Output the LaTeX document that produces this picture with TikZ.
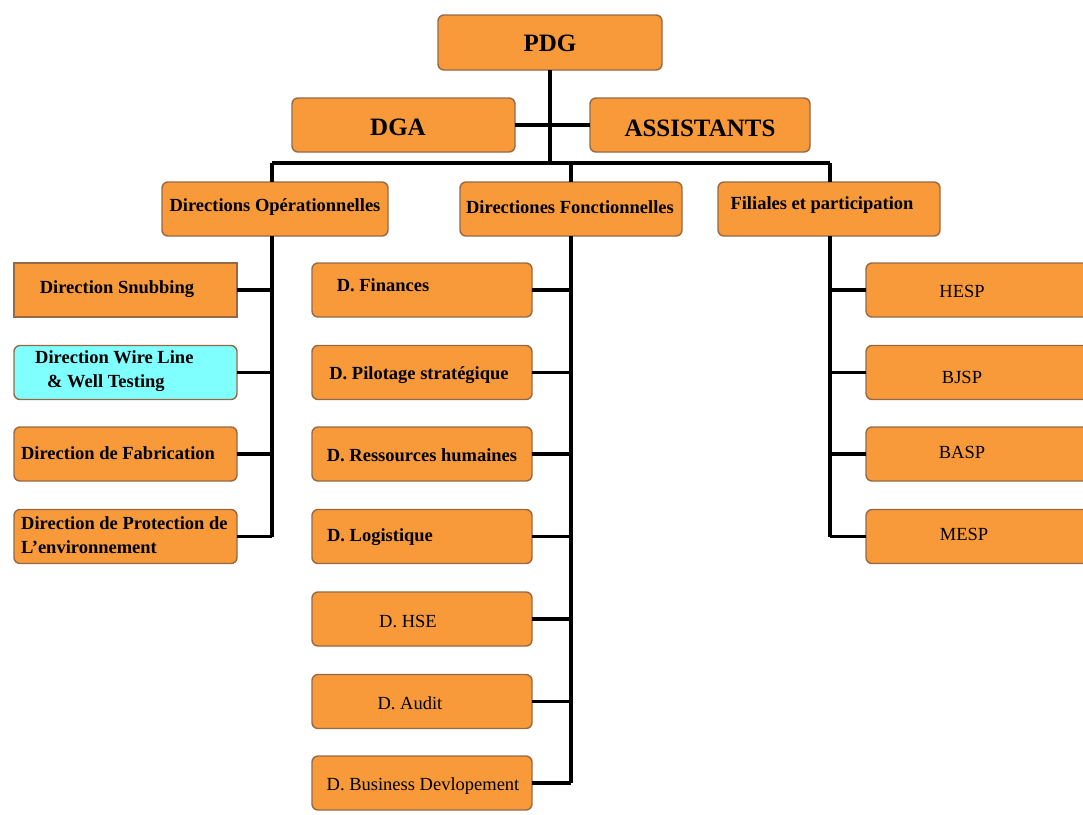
\documentclass[tikz,border=0pt]{standalone}
\usepackage{fontspec}
\setmainfont{Liberation Serif}
\definecolor{boxfill}{RGB}{248,154,58}
\definecolor{boxline}{RGB}{150,105,70}
\definecolor{cyanfill}{RGB}{128,255,255}
\begin{document}
\begin{tikzpicture}[x=1pt,y=-1pt,
  orgbox/.style={draw=boxline, fill=boxfill, line width=1.4pt, rounded corners=6pt, inner sep=0pt, outer sep=0pt, minimum height=54pt},
  bigtxt/.style={font=\fontsize{25}{28}\selectfont\bfseries, inner sep=0pt},
  smalltxt/.style={font=\fontsize{18.5}{24}\selectfont\bfseries, inner sep=0pt},
  plaintxt/.style={font=\fontsize{18.5}{22}\selectfont, inner sep=0pt},
  wire/.style={line width=3.2pt, black}
]
\clip (0,0) rectangle (1083,814);
\fill[white] (0,0) rectangle (1083,814);

% top level
\node[orgbox, minimum width=224pt, minimum height=55pt] (pdg) at (550,42.5) {};
\node[orgbox, minimum width=223pt] (dga) at (403.5,125) {};
\node[orgbox, minimum width=220pt] (assist) at (700,125) {};
\node[orgbox, minimum width=226pt] (ops) at (275,209) {};
\node[orgbox, minimum width=222pt] (fonc) at (571,209) {};
\node[orgbox, minimum width=222pt] (fil) at (829,209) {};

% left column
\node[orgbox, rounded corners=0pt, minimum width=223pt] (snub) at (125.5,290) {};
\node[orgbox, fill=cyanfill, minimum width=223pt] (wire) at (125.5,372.5) {};
\node[orgbox, minimum width=223pt] (fab) at (125.5,454) {};
\node[orgbox, minimum width=223pt] (prot) at (125.5,536.5) {};

% middle column
\node[orgbox, minimum width=220pt] (fin) at (422,290) {};
\node[orgbox, minimum width=220pt] (pil) at (422,372.5) {};
\node[orgbox, minimum width=220pt] (rh) at (422,454) {};
\node[orgbox, minimum width=220pt] (log) at (422,536.5) {};
\node[orgbox, minimum width=220pt] (hse) at (422,619) {};
\node[orgbox, minimum width=220pt] (aud) at (422,701.5) {};
\node[orgbox, minimum width=220pt] (bus) at (422,783) {};

% right column
\node[orgbox, minimum width=229pt] (hesp) at (980.5,290) {};
\node[orgbox, minimum width=229pt] (bjsp) at (980.5,372.5) {};
\node[orgbox, minimum width=229pt] (basp) at (980.5,454) {};
\node[orgbox, minimum width=229pt] (mesp) at (980.5,536.5) {};

% texts
\node[bigtxt] (tpdg) at (550,43) {PDG};
\node[bigtxt] (tdga) at (398,127) {DGA};
\node[bigtxt] (tass) at (700,128) {ASSISTANTS};
\node[smalltxt] (tops) at (275,207) {Directions Opérationnelles};
\node[smalltxt] (tfonc) at (570,207) {Directiones Fonctionnelles};
\node[smalltxt] (tfil) at (822,205) {Filiales et participation};
\node[smalltxt] (tsnub) at (117,289) {Direction Snubbing};
\node[smalltxt, align=left, anchor=west] (twire) at (35,371) {Direction Wire Line\\\hspace{12pt}\& Well Testing};
\node[smalltxt] (tfab) at (118,453) {Direction de Fabrication};
\node[smalltxt, align=left, anchor=west] (tprot) at (21,535) {Direction de Protection de\\L'environnement};
\node[smalltxt] (tfin) at (383,285) {D. Finances};
\node[smalltxt] (tpil) at (419,375) {D. Pilotage stratégique};
\node[smalltxt] (trh) at (422,455) {D. Ressources humaines};
\node[smalltxt] (tlog) at (380,537) {D. Logistique};
\node[plaintxt] (thse) at (408,621) {D. HSE};
\node[plaintxt] (taud) at (410,703) {D. Audit};
\node[plaintxt] (tbus) at (423,786) {D. Business Devlopement};
\node[plaintxt] (thesp) at (962,291) {HESP};
\node[plaintxt] (tbjsp) at (962,377) {BJSP};
\node[plaintxt] (tbasp) at (962,452) {BASP};
\node[plaintxt] (tmesp) at (964,534) {MESP};

% connectors
\coordinate (mainbus) at (550,163);
\coordinate (lbus) at (272,163);
\coordinate (mbus) at (571,163);
\coordinate (rbus) at (830,163);
\draw[wire] (pdg.south) -- (mainbus);
\draw[wire] (dga.east) -- (assist.west);
\draw[wire] (lbus) -- (rbus);
\draw[wire] (lbus) -- (lbus |- ops.north);
\draw[wire] (mbus) -- (fonc.north);
\draw[wire] (rbus) -- (rbus |- fil.north);

\draw[wire] (lbus |- ops.south) -- (lbus |- prot.east);
\draw[wire] (snub.east) -- (snub.east -| lbus);
\draw[wire] (wire.east) -- (wire.east -| lbus);
\draw[wire] (fab.east) -- (fab.east -| lbus);
\draw[wire] (prot.east) -- (prot.east -| lbus);

\draw[wire] (fonc.south) -- (fonc.south |- bus.east);
\foreach \n in {fin,pil,rh,log,hse,aud,bus}
  \draw[wire] (\n.east) -- (\n.east -| fonc.south);

\draw[wire] (rbus |- fil.south) -- (rbus |- mesp.west);
\foreach \n in {hesp,bjsp,basp,mesp}
  \draw[wire] (\n.west) -- (\n.west -| rbus);
\end{tikzpicture}
\end{document}
